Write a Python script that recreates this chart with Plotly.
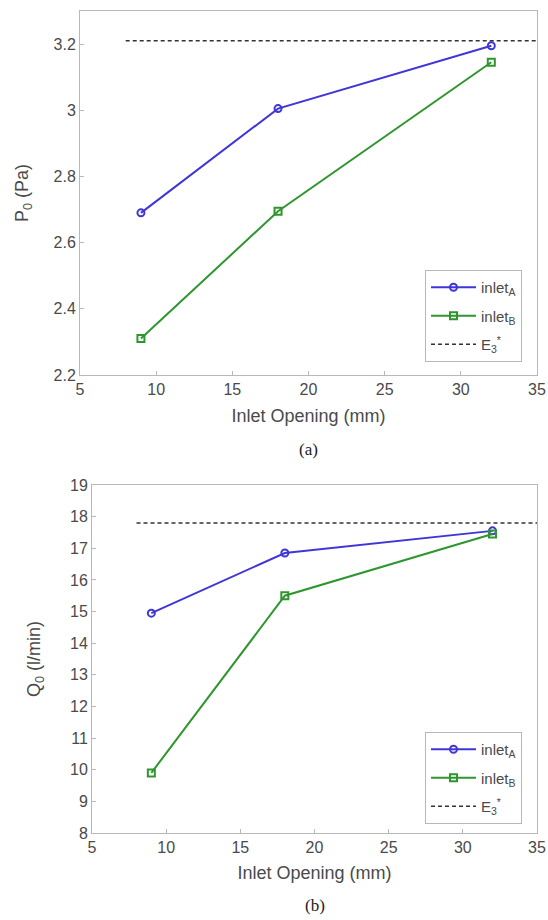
import plotly.graph_objects as go

# Data
inlet_opening = [9, 18, 32]
p0_inlet_a = [2.69, 3.005, 3.195]
p0_inlet_b = [2.31, 2.695, 3.145]
p0_e3 = 3.21
q0_inlet_a = [14.95, 16.85, 17.55]
q0_inlet_b = [9.9, 15.5, 17.45]
q0_e3 = 17.8
e3_x = [8, 35]

BLUE = "#3f36d8"
GREEN = "#2e962e"
TXT = "#4a4a4a"
AX = "#b8b8b8"
FONT = "Liberation Sans"

fig = go.Figure()

def add_panel(xa, ya, yA, yB, e3, legend, tag):
    fig.add_trace(go.Scatter(x=inlet_opening, y=yA, mode="lines+markers", name="inlet<sub>A</sub>",
                             line=dict(color=BLUE, width=2), legendgroup=tag + "a",
                             marker=dict(symbol="circle-open", size=7, color=BLUE, line=dict(width=2)),
                             xaxis=xa, yaxis=ya, legend=legend))
    fig.add_trace(go.Scatter(x=inlet_opening, y=yB, mode="lines+markers", name="inlet<sub>B</sub>",
                             line=dict(color=GREEN, width=2), legendgroup=tag + "b",
                             marker=dict(symbol="square-open", size=7, color=GREEN, line=dict(width=2)),
                             xaxis=xa, yaxis=ya, legend=legend))
    fig.add_trace(go.Scatter(x=e3_x, y=[e3, e3], mode="lines", name="E<sub>3</sub><sup>*</sup>",
                             line=dict(color="#333333", width=1.5, dash="4px,3px"), legendgroup=tag + "e",
                             xaxis=xa, yaxis=ya, legend=legend))

add_panel("x", "y", p0_inlet_a, p0_inlet_b, p0_e3, "legend", "p")
add_panel("x2", "y2", q0_inlet_a, q0_inlet_b, q0_e3, "legend2", "q")

axis_common = dict(showline=True, linecolor=AX, linewidth=1, mirror=True, showgrid=False,
                   zeroline=False, ticks="inside", ticklen=4, tickcolor=AX, automargin=False,
                   tickfont=dict(family=FONT, size=16, color=TXT))
title_font = dict(family=FONT, size=18, color=TXT)

leg_common = dict(xanchor="left", yanchor="top", bgcolor="white", bordercolor=AX, borderwidth=1,
                  font=dict(family=FONT, size=15, color=TXT), itemwidth=45,
                  traceorder="grouped", tracegroupgap=6)

fig.update_layout(
    width=548, height=920,
    autosize=False,
    margin=dict(l=0, r=0, t=0, b=0, pad=0, autoexpand=False),
    paper_bgcolor="white", plot_bgcolor="white",
    showlegend=True,
    xaxis=dict(domain=[80/548, 537/548], range=[5, 35], tickvals=[5, 10, 15, 20, 25, 30, 35],
               anchor="y", title=dict(text="Inlet Opening (mm)", standoff=12, font=title_font),
               **axis_common),
    yaxis=dict(domain=[1-375/920, 1-11/920], range=[2.2, 3.3],
               tickvals=[2.2, 2.4, 2.6, 2.8, 3.0, 3.2], ticktext=["2.2", "2.4", "2.6", "2.8", "3", "3.2"],
               anchor="x", title=dict(text="P<sub>0</sub> (Pa)", standoff=20, font=title_font),
               **axis_common),
    xaxis2=dict(domain=[92/548, 537/548], range=[5, 35], tickvals=[5, 10, 15, 20, 25, 30, 35],
                anchor="y2", title=dict(text="Inlet Opening (mm)", standoff=11, font=title_font),
                **axis_common),
    yaxis2=dict(domain=[1-833/920, 1-485/920], range=[8, 19], dtick=1,
                anchor="x2", title=dict(text="Q<sub>0</sub> (l/min)", standoff=24, font=title_font),
                **axis_common),
    legend=dict(x=425/548, y=1-270/920, **leg_common),
    legend2=dict(x=425/548, y=1-732/920, **leg_common),
    annotations=[
        dict(text="(a)", x=(80+537)/2/548, y=1-450/920, xref="paper", yref="paper", yanchor="middle",
             showarrow=False, font=dict(family="Liberation Serif", size=17, color="#222222")),
        dict(text="(b)", x=(92+537)/2/548, y=1-905/920, xref="paper", yref="paper", yanchor="middle",
             showarrow=False, font=dict(family="Liberation Serif", size=17, color="#222222")),
    ],
)

fig.write_html("out.html", config={"displayModeBar": False},
               post_script="document.body.style.margin='0';")
